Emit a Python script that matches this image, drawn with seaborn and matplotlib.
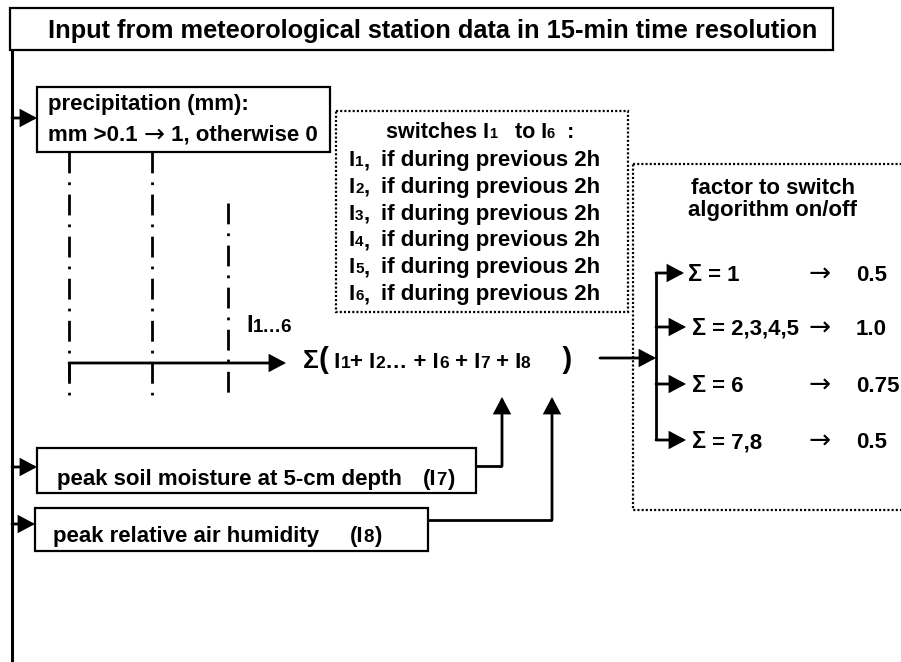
import matplotlib
matplotlib.use("Agg")
import matplotlib.pyplot as plt
import seaborn as sns
from matplotlib.patches import Rectangle
from matplotlib.font_manager import FontProperties

# ---------------- content ----------------
title_text = "Input from meteorological station data in 15-min time resolution"
precip_lines = [["precipitation (mm):"], ["mm >0.1 ", "\u2192", " 1, otherwise 0"]]
switch_heading = ["switches I", "1", "   to I", "6", "  :"]
switch_indices = ["1", "2", "3", "4", "5", "6"]
switch_rule = "if during previous 2h"
range_label = ["I", "1\u20266"]
sum_indices = ["1", "2", "6", "7", "8"]
factor_heading = ["factor to switch", "algorithm on/off"]
factor_sums = ["1", "2,3,4,5", "6", "7,8"]
factor_values = ["0.5", "1.0", "0.75", "0.5"]
input_labels = ["peak soil moisture at 5-cm depth", "peak relative air humidity"]
input_indices = ["7", "8"]

# ---------------- setup ----------------
sns.set_theme(style="white")
plt.rcParams['font.family'] = ['Liberation Sans', 'DejaVu Sans']
plt.rcParams['text.color'] = 'black'
plt.rcParams['lines.scale_dashes'] = False

W, H = 901, 662
fig = plt.figure(figsize=(W / 100, H / 100), dpi=100)
ax = fig.add_axes([0, 0, 1, 1])
ax.set_xlim(0, W)
ax.set_ylim(H, 0)
ax.axis('off')
renderer = fig.canvas.get_renderer()

BODY = 16
SUB = 11
ARROW_FAM = ['DejaVu Sans']
ARROW_SIZE = 19
TEXT_FAM = ['Liberation Sans', 'DejaVu Sans']


def adv(s, size, weight='bold', family=None):
    prop = FontProperties(family=family or TEXT_FAM, weight=weight, size=size)
    w1 = renderer.get_text_width_height_descent("I" + s + "I", prop, ismath=False)[0]
    w0 = renderer.get_text_width_height_descent("II", prop, ismath=False)[0]
    return w1 - w0


def rich(x, y, segs, ha='left'):
    """segs: (text, size, weight, dy, family)"""
    segs = [tuple(s) + (None,) * (5 - len(s)) for s in segs]
    ws = [adv(s, sz, wt, fam) for s, sz, wt, dy, fam in segs]
    if ha == 'center':
        x -= sum(ws) / 2
    for (s, sz, wt, dy, fam), w in zip(segs, ws):
        ax.text(x, y + dy, s, fontsize=sz, fontweight=wt, ha='left', va='baseline',
                color='black', family=fam or TEXT_FAM)
        x += w
    return x


def arrow(x0, y0, x1, y1, lw=2.0):
    ax.annotate('', xy=(x1, y1), xytext=(x0, y0),
                arrowprops=dict(arrowstyle='-|>,head_length=0.47,head_width=0.25',
                                color='black', lw=lw, shrinkA=0, shrinkB=0,
                                mutation_scale=20, joinstyle='miter'))


def poly(xs, ys, lw=2.0):
    sns.lineplot(x=xs, y=ys, ax=ax, color='black', lw=lw, sort=False, estimator=None,
                 legend=False, solid_capstyle='butt', solid_joinstyle='miter')


def box(x, y, w, h, dotted=False, lw=1.6):
    ls = (0, (1.5, 1.5)) if dotted else '-'
    ax.add_patch(Rectangle((x, y), w, h, fill=False, edgecolor='black', lw=lw, linestyle=ls,
                           joinstyle='miter'))


# ---------------- title ----------------
box(10, 8, 823, 42)
ax.text(433, 38, title_text, fontsize=18.3, fontweight='bold', ha='center', va='baseline')

# main feed line
poly([12, 12], [50, 662], lw=2.2)

# ---------------- precipitation ----------------
box(37, 87, 293, 65)
arrow(12, 118, 37, 118)
rich(48, 110, [(precip_lines[0][0], BODY, 'bold', 0)])
rich(48, 141, [(precip_lines[1][0], BODY, 'bold', 0),
               (precip_lines[1][1], ARROW_SIZE - 1, 'normal', 1, ARROW_FAM),
               (precip_lines[1][2], BODY, 'bold', 0)])

# dash-dot switch lines
dd = (0, (15, 6.5, 2.0, 6.8))
for x, y0 in [(69, 152), (152, 152), (228, 203)]:
    ax.plot([x, x], [y0, 395], color='black', lw=2.0, linestyle=dd, dash_capstyle='butt')

# gathering arrow
poly([69, 69], [363, 380], lw=2.0)
arrow(69, 363, 286, 363)
rich(246, 332, [(range_label[0], 17, 'bold', 0), (range_label[1], 13.5, 'bold', 0)])

# ---------------- switches box ----------------
box(336, 111, 292, 201, dotted=True)
rich(480, 138, [(switch_heading[0], 15.5, 'bold', 0), (switch_heading[1], 10.5, 'bold', 0),
                (switch_heading[2], 15.5, 'bold', 0), (switch_heading[3], 10.5, 'bold', 0),
                (switch_heading[4], 15.5, 'bold', 0)], ha='center')
for i, idx in enumerate(switch_indices):
    yb = 166 + i * 26.8
    rich(349, yb, [("I", BODY, 'bold', 0), (idx, SUB, 'bold', 0), (",", BODY, 'bold', 0)])
    ax.text(381, yb, switch_rule, fontsize=BODY, fontweight='bold', va='baseline')

# ---------------- sum expression ----------------
segs = [("\u03a3", 19, 'bold', 0), ("(", 21, 'bold', 0)]
ops = [" ", "+ ", "\u2026 + ", " + ", " + "]
for op, idx in zip(ops, sum_indices):
    segs.append((op + "I", BODY, 'bold', 0))
    segs.append((idx, SUB + 1.5, 'bold', 0))
segs.append(("    )", 21, 'bold', 0))
rich(303, 368, segs)

# arrow to factor bracket
arrow(600, 358, 656, 358)

# inputs I7, I8
box(37, 448, 439, 45)
box(35, 508, 393, 43)
arrow(12, 467, 37, 467)
arrow(12, 524, 35, 524)
rich(57, 485, [(input_labels[0], BODY, 'bold', 0)])
rich(423, 485, [("(I", BODY, 'bold', 0), (input_indices[0], SUB + 2.5, 'bold', 0), (")", BODY, 'bold', 0)])
rich(53, 542, [(input_labels[1], BODY, 'bold', 0)])
rich(350, 542, [("(I", BODY, 'bold', 0), (input_indices[1], SUB + 2.5, 'bold', 0), (")", BODY, 'bold', 0)])
poly([476, 502], [466, 466])
arrow(502, 466, 502, 397)
poly([428, 552], [520, 520])
arrow(552, 520, 552, 397)

# ---------------- factor box ----------------
box(633, 164, 400, 346, dotted=True)
ax.text(773, 194, factor_heading[0], fontsize=BODY, fontweight='bold', ha='center', va='baseline')
ax.text(772, 216, factor_heading[1], fontsize=BODY, fontweight='bold', ha='center', va='baseline')

rows_y = [273, 327, 384, 440]
poly([656, 656], [rows_y[0], rows_y[-1]])
for i, (s, v, y) in enumerate(zip(factor_sums, factor_values, rows_y)):
    arrow(656, y, 686 if i else 684, y)
    rich(688 if i == 0 else 692, y + 8, [("\u03a3", 17, 'bold', 0), (" = " + s, BODY, 'bold', 0)])
    ax.text(809, y + 9, "\u2192", fontsize=ARROW_SIZE, fontweight='normal', va='baseline',
            family=ARROW_FAM)
    ax.text(856, y + 8, v, fontsize=BODY, fontweight='bold', va='baseline')

ax.set_xlim(0, W)
ax.set_ylim(H, 0)
fig.savefig("out.png", dpi=100, facecolor='white')
